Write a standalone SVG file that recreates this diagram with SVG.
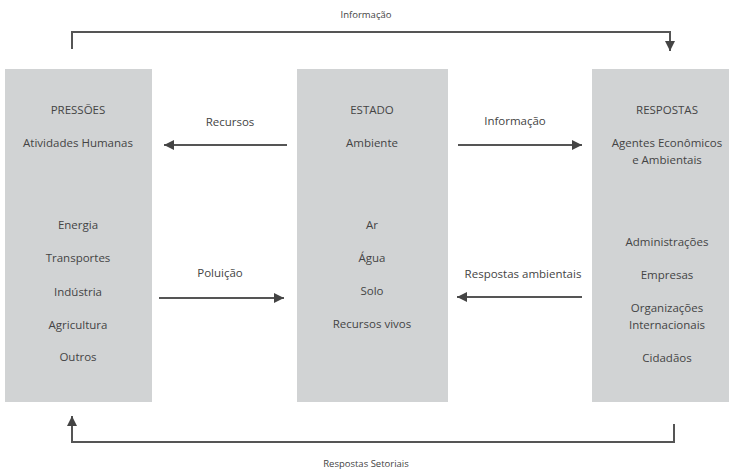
<svg xmlns="http://www.w3.org/2000/svg" width="731" height="473" viewBox="0 0 731 473">
<style>
.box{fill:#d1d3d4}
text{font-family:"Open Sans","Noto Sans",sans-serif;font-size:11.5px;fill:#444;text-anchor:middle}
text.sm{font-size:9.5px}
.ln{fill:none;stroke:#555;stroke-width:2}
</style>
<defs>
<marker id="ah" viewBox="0 0 10 10" refX="10" refY="5" markerWidth="5.5" markerHeight="5" markerUnits="strokeWidth" orient="auto">
<path d="M0,0 L10,5 L0,10 z" fill="#444"/>
</marker>
</defs>
<rect width="731" height="473" fill="#fff"/>
<g id="pressoes">
<rect class="box" x="5" y="69" width="147" height="333"/>
<text x="78" y="114">PRESSÕES</text>
<text x="78" y="147">Atividades Humanas</text>
<text x="78" y="229">Energia</text>
<text x="78" y="262">Transportes</text>
<text x="78" y="296">Indústria</text>
<text x="78" y="329">Agricultura</text>
<text x="78" y="361">Outros</text>
</g>
<g id="estado">
<rect class="box" x="297" y="69" width="151" height="333"/>
<text x="372" y="114">ESTADO</text>
<text x="372" y="147">Ambiente</text>
<text x="372" y="229">Ar</text>
<text x="372" y="262">Água</text>
<text x="372" y="295">Solo</text>
<text x="372" y="328">Recursos vivos</text>
</g>
<g id="respostas">
<rect class="box" x="592" y="69" width="137" height="333"/>
<text x="667" y="114">RESPOSTAS</text>
<text x="667" y="147">Agentes Econômicos</text>
<text x="667" y="164">e Ambientais</text>
<text x="667" y="246">Administrações</text>
<text x="667" y="279">Empresas</text>
<text x="667" y="312">Organizações</text>
<text x="667" y="329">Internacionais</text>
<text x="667" y="362">Cidadãos</text>
</g>
<g id="connectors">
<path class="ln" d="M72,49 V32 H670 V51" marker-end="url(#ah)"/>
<path class="ln" d="M674,424 V442 H72 V416" marker-end="url(#ah)"/>
<path class="ln" d="M287,145 H164" marker-end="url(#ah)"/>
<path class="ln" d="M458,145 H582" marker-end="url(#ah)"/>
<path class="ln" d="M159,298 H284" marker-end="url(#ah)"/>
<path class="ln" d="M582,297 H457" marker-end="url(#ah)"/>
<text class="sm" x="366" y="18">Informação</text>
<text class="sm" x="366" y="467">Respostas Setoriais</text>
<text x="230" y="126">Recursos</text>
<text x="515" y="125">Informação</text>
<text x="220" y="277">Poluição</text>
<text x="523" y="278">Respostas ambientais</text>
</g>
</svg>
